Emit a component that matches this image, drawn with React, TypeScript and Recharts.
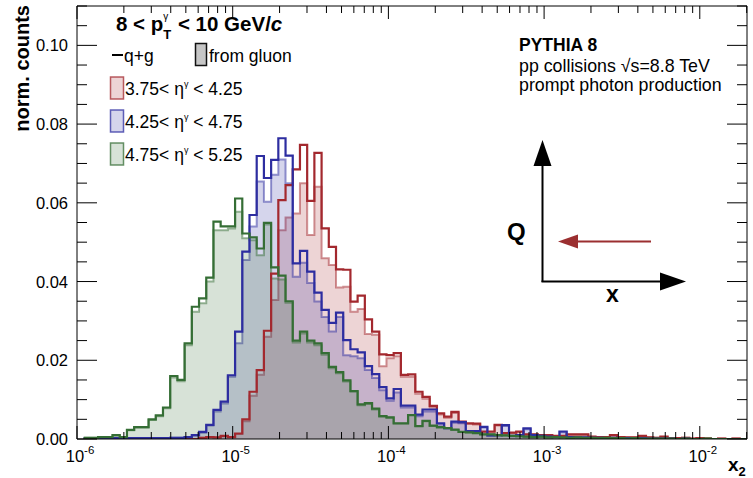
import React from 'react';
import { ComposedChart, Area, Line, XAxis, YAxis } from 'recharts';

// log10(x2) of the first bin's lower edge, and the bin width in log10(x2)
const LOG_X0 = -5.957;
const LOG_DX = 0.0463;
const X_MIN = 1e-6;
const X_MAX = 0.0201;
const Y_MAX = 0.11;

// 4.75 < eta < 5.25
const greenAll = [
    0.0003, 0.0003, 0.0005, 0.0005, 0.0010, 0.0005, 0.0023, 0.0030, 0.0030, 0.0050,
    0.0060, 0.0080, 0.0160, 0.0150, 0.0243, 0.0336, 0.0357, 0.0410, 0.0552, 0.0540,
    0.0540, 0.0611, 0.0522, 0.0512, 0.0484, 0.0549, 0.0436, 0.0415, 0.0350, 0.0250,
    0.0273, 0.0250, 0.0243, 0.0218, 0.0183, 0.0170, 0.0149, 0.0122, 0.0088, 0.0091,
    0.0077, 0.0058, 0.0055, 0.0040, 0.0040, 0.0061, 0.0033, 0.0046, 0.0034, 0.0030,
    0.0028, 0.0024, 0.0018, 0.0017, 0.0015, 0.0012, 0.0012, 0.0010, 0.0009, 0.0008,
    0.0007, 0.0006, 0.0005, 0.0006, 0.0004, 0.0005, 0.0004, 0.0003, 0.0004, 0.0003,
    0.0003, 0.0002, 0.0003, 0.0002, 0.0002, 0.0001, 0.0002, 0.0001, 0.0001, 0.0001,
    0.0001, 0.0001, 0, 0.0001, 0, 0, 0.0001, 0, 0, 0, 0, 0,
];
const greenGluon = [
    0.0003, 0.0003, 0.0005, 0.0005, 0.0009, 0.0005, 0.0022, 0.0029, 0.0029, 0.0048,
    0.0058, 0.0078, 0.0156, 0.0147, 0.0238, 0.0323, 0.0345, 0.0400, 0.0530, 0.0530,
    0.0535, 0.0577, 0.0510, 0.0505, 0.0467, 0.0545, 0.0408, 0.0405, 0.0346, 0.0245,
    0.0268, 0.0245, 0.0238, 0.0214, 0.0180, 0.0167, 0.0146, 0.0120, 0.0086, 0.0089,
    0.0075, 0.0057, 0.0054, 0.0039, 0.0039, 0.0060, 0.0032, 0.0045, 0.0033, 0.0029,
    0.0027, 0.0023, 0.0018, 0.0017, 0.0015, 0.0012, 0.0012, 0.0010, 0.0009, 0.0008,
    0.0007, 0.0006, 0.0005, 0.0006, 0.0004, 0.0005, 0.0004, 0.0003, 0.0004, 0.0003,
    0.0003, 0.0002, 0.0003, 0.0002, 0.0002, 0.0001, 0.0002, 0.0001, 0.0001, 0.0001,
    0.0001, 0.0001, 0, 0.0001, 0, 0, 0.0001, 0, 0, 0, 0, 0,
];

// 4.25 < eta < 4.75
const blueAll = [
    0.0002, 0.0002, 0.0002, 0.0002, 0.0002, 0.0002, 0.0002, 0.0002, 0.0002, 0.0002,
    0.0002, 0.0002, 0.0003, 0.0003, 0.0005, 0.0010, 0.0018, 0.0036, 0.0074, 0.0095,
    0.0162, 0.0273, 0.0476, 0.0569, 0.0719, 0.0663, 0.0709, 0.0764, 0.0720, 0.0446,
    0.0478, 0.0425, 0.0372, 0.0328, 0.0295, 0.0321, 0.0251, 0.0228, 0.0220, 0.0185,
    0.0165, 0.0132, 0.0103, 0.0127, 0.0085, 0.0085, 0.0062, 0.0075, 0.0075, 0.0040,
    0.0028, 0.0044, 0.0043, 0.0020, 0.0020, 0.0031, 0.0009, 0.0010, 0.0035, 0.0008,
    0.0010, 0.0027, 0.0010, 0.0008, 0.0006, 0.0005, 0.0019, 0.0005, 0.0004, 0.0004,
    0.0003, 0.0003, 0.0002, 0.0003, 0.0002, 0.0002, 0.0001, 0.0002, 0.0001, 0.0001,
    0.0001, 0.0001, 0, 0.0001, 0, 0, 0, 0, 0, 0, 0, 0,
];
const blueGluon = [
    0.0002, 0.0002, 0.0002, 0.0002, 0.0002, 0.0002, 0.0002, 0.0002, 0.0002, 0.0002,
    0.0002, 0.0002, 0.0003, 0.0003, 0.0005, 0.0009, 0.0016, 0.0034, 0.0070, 0.0090,
    0.0158, 0.0243, 0.0455, 0.0540, 0.0654, 0.0603, 0.0671, 0.0710, 0.0650, 0.0412,
    0.0448, 0.0396, 0.0349, 0.0310, 0.0273, 0.0310, 0.0213, 0.0210, 0.0205, 0.0175,
    0.0155, 0.0124, 0.0097, 0.0118, 0.0080, 0.0080, 0.0058, 0.0070, 0.0070, 0.0037,
    0.0026, 0.0041, 0.0040, 0.0019, 0.0019, 0.0029, 0.0008, 0.0009, 0.0033, 0.0007,
    0.0009, 0.0025, 0.0009, 0.0007, 0.0005, 0.0005, 0.0017, 0.0005, 0.0004, 0.0004,
    0.0003, 0.0003, 0.0002, 0.0003, 0.0002, 0.0002, 0.0001, 0.0002, 0.0001, 0.0001,
    0.0001, 0.0001, 0, 0.0001, 0, 0, 0, 0, 0, 0, 0, 0,
];

// 3.75 < eta < 4.25
const redAll = [
    0, 0, 0, 0, 0, 0, 0, 0, 0, 0,
    0, 0, 0, 0, 0, 0, 0.0003, 0.0005, 0.0004, 0.0008,
    0.0005, 0.0014, 0.0050, 0.0120, 0.0175, 0.0275, 0.0420, 0.0607, 0.0645, 0.0685,
    0.0747, 0.0605, 0.0727, 0.0535, 0.0488, 0.0431, 0.0430, 0.0349, 0.0364, 0.0304,
    0.0273, 0.0215, 0.0213, 0.0218, 0.0163, 0.0164, 0.0120, 0.0107, 0.0084, 0.0065,
    0.0057, 0.0069, 0.0044, 0.0040, 0.0039, 0.0019, 0.0019, 0.0036, 0.0015, 0.0016,
    0.0019, 0.0012, 0.0012, 0.0010, 0.0010, 0.0008, 0.0008, 0.0012, 0.0012, 0.0012,
    0.0006, 0.0005, 0.0005, 0.0010, 0.0005, 0.0004, 0.0004, 0.0008, 0.0004, 0.0003,
    0.0006, 0.0002, 0.0002, 0.0003, 0.0001, 0.0002, 0.0001, 0, 0.0001, 0, 0.0001, 0,
];
const redGluon = [
    0, 0, 0, 0, 0, 0, 0, 0, 0, 0,
    0, 0, 0, 0, 0, 0, 0.0003, 0.0005, 0.0004, 0.0007,
    0.0005, 0.0013, 0.0045, 0.0110, 0.0163, 0.0260, 0.0353, 0.0530, 0.0563, 0.0573,
    0.0650, 0.0518, 0.0641, 0.0459, 0.0442, 0.0385, 0.0387, 0.0323, 0.0330, 0.0267,
    0.0265, 0.0185, 0.0205, 0.0210, 0.0158, 0.0158, 0.0115, 0.0102, 0.0080, 0.0062,
    0.0054, 0.0066, 0.0042, 0.0038, 0.0037, 0.0018, 0.0018, 0.0034, 0.0014, 0.0015,
    0.0018, 0.0011, 0.0011, 0.0009, 0.0009, 0.0007, 0.0007, 0.0011, 0.0011, 0.0011,
    0.0005, 0.0005, 0.0005, 0.0009, 0.0005, 0.0004, 0.0004, 0.0007, 0.0004, 0.0003,
    0.0005, 0.0002, 0.0002, 0.0003, 0.0001, 0.0002, 0.0001, 0, 0.0001, 0, 0.0001, 0,
];

const xMajorTicks = [1e-6, 1e-5, 1e-4, 1e-3, 1e-2];
const xMinorSteps = [2, 3, 4, 5, 6, 7, 8, 9];
const yTicks = [
    0, 0.005, 0.01, 0.015, 0.02, 0.025, 0.03, 0.035, 0.04, 0.045, 0.05, 0.055,
    0.06, 0.065, 0.07, 0.075, 0.08, 0.085, 0.09, 0.095, 0.1, 0.105, 0.11,
];
const yLabelTicks = [0, 0.02, 0.04, 0.06, 0.08, 0.1];
const yLabels = ['0.00', '0.02', '0.04', '0.06', '0.08', '0.10'];
const etaBins = [
    { lo: '3.75', hi: '4.25' },
    { lo: '4.25', hi: '4.75' },
    { lo: '4.75', hi: '5.25' },
];

const RED = '#a3282e';
const BLUE = '#2d2da0';
const GREEN = '#356e35';
const FONT = '"Liberation Sans", Arial, Helvetica, sans-serif';

// chart box: margins plus axis sizes give the plot frame
const W = 753;
const H = 478;
const MARGIN = { top: 5, right: 5, bottom: 9, left: 17 };
const Y_AXIS_W = 60;
const X_AXIS_H = 30;
const EDGE_AXIS = 1;
const PLOT_LEFT = MARGIN.left + Y_AXIS_W;
const PLOT_RIGHT = W - MARGIN.right - EDGE_AXIS;
const PLOT_TOP = MARGIN.top + EDGE_AXIS;
const PLOT_BOTTOM = H - MARGIN.bottom - X_AXIS_H;

const xTicks: number[] = [];
xMajorTicks.forEach((m) => {
    xTicks.push(m);
    xMinorSteps.forEach((s) => {
        if (m * s <= X_MAX) xTicks.push(m * s);
    });
});

// histogram rows: one point per lower bin edge, plus the closing edge
const rows = greenAll.map((_, i) => ({
    x: 10 ** (LOG_X0 + i * LOG_DX),
    gAll: greenAll[i], gGlu: greenGluon[i],
    bAll: blueAll[i], bGlu: blueGluon[i],
    rAll: redAll[i], rGlu: redGluon[i],
}));
const last = rows[rows.length - 1];
rows.push({ ...last, x: 10 ** (LOG_X0 + rows.length * LOG_DX) });

const isDecade = (v: number) => {
    const lg = Math.log10(v);
    return Math.abs(lg - Math.round(lg)) < 1e-6;
};
const isYMajor = (v: number) => Math.round(v * 1000) % 20 === 0;

// same mapping as the chart's log x / linear y axes (used for the frame ticks only)
const tickX = (v: number) =>
    PLOT_LEFT + ((Math.log10(v) - Math.log10(X_MIN)) / (Math.log10(X_MAX) - Math.log10(X_MIN))) * (PLOT_RIGHT - PLOT_LEFT);
const tickY = (v: number) => PLOT_BOTTOM - (v / Y_MAX) * (PLOT_BOTTOM - PLOT_TOP);

const XLabel = (props: any) => {
    const x = Number(props.x);
    const y = Number(props.y);
    const exp = Math.round(Math.log10(Number(props.payload.value)));
    return (
        <text x={x + 3} y={y + 23} textAnchor="middle" fontSize={16.5} fill="#000" fontFamily={FONT}>
            10<tspan dy={-8} fontSize={11.5}>{exp}</tspan>
        </text>
    );
};
const YLabel = (props: any) => {
    const x = Number(props.x);
    const y = Number(props.y);
    const label = yLabels[Math.round(Number(props.payload.value) / 0.02)];
    return (
        <text x={x - 9} y={y + 6} textAnchor="end" fontSize={16.5} fill="#000" fontFamily={FONT}>
            {label}
        </text>
    );
};

const FrameTicks = () => (
    <g stroke="#000" strokeWidth={1}>
        {xTicks.map((v) => {
            const x = tickX(v);
            const len = isDecade(v) ? 13 : 7;
            return (
                <g key={`x-${v}`}>
                    <line x1={x} y1={PLOT_BOTTOM} x2={x} y2={PLOT_BOTTOM - len} />
                    <line x1={x} y1={PLOT_TOP} x2={x} y2={PLOT_TOP + len} />
                </g>
            );
        })}
        {yTicks.map((v) => {
            const y = tickY(v);
            const len = isYMajor(v) ? 20 : 10;
            return (
                <g key={`y-${v}`}>
                    <line x1={PLOT_LEFT} y1={y} x2={PLOT_LEFT + len} y2={y} />
                    <line x1={PLOT_RIGHT} y1={y} x2={PLOT_RIGHT - len} y2={y} />
                </g>
            );
        })}
    </g>
);

const LegendBox = ({ y, color, lo, hi }: { y: number; color: string; lo: string; hi: string }) => (
    <g>
        <rect x={110.5} y={y} width={13} height={22} fill={color} fillOpacity={0.2} stroke={color} strokeOpacity={0.75} strokeWidth={1.5} />
        <text x={125} y={y + 18} fontSize={17.5} fill="#000">
            {lo}{'< η'}
            <tspan dy={-8} fontSize={9}>γ</tspan>
            <tspan dy={8}>{' < ' + hi}</tspan>
        </text>
    </g>
);

const Overlay = () => (
    <svg width={W} height={H} style={{ position: 'absolute', left: 0, top: 0, pointerEvents: 'none' }} fontFamily={FONT}>
        <FrameTicks />

        {/* axis titles */}
        <text x={29} y={5} transform="rotate(-90 29 5)" textAnchor="end" fontSize={20} fontWeight="bold" fill="#000">
            norm. counts
        </text>
        <text x={728} y={471} fontSize={19} fontWeight="bold" fill="#000">
            x<tspan dy={5} fontSize={13}>2</tspan>
        </text>

        {/* kinematic title */}
        <text x={116} y={31} fontSize={20.5} fontWeight="bold" fill="#000">
            {'8 < p'}
            <tspan dy={8} fontSize={13}>T</tspan>
            <tspan dx={-8} dy={-19} fontSize={10} fontWeight="normal">γ</tspan>
            <tspan dx={4} dy={11}>{' < 10 GeV/'}</tspan>
            <tspan fontStyle="italic">c</tspan>
        </text>

        {/* legend */}
        <line x1={112} y1={55} x2={123} y2={55} stroke="#000" strokeWidth={2} />
        <text x={124} y={62} fontSize={17.5} fill="#000">q+g</text>
        <rect x={195.5} y={43.5} width={11} height={22} fill="#c6c6c6" stroke="#111" strokeWidth={1.5} />
        <text x={209} y={62} fontSize={17.5} fill="#000">from gluon</text>
        <LegendBox y={77} color={RED} lo={etaBins[0].lo} hi={etaBins[0].hi} />
        <LegendBox y={110} color={BLUE} lo={etaBins[1].lo} hi={etaBins[1].hi} />
        <LegendBox y={143} color={GREEN} lo={etaBins[2].lo} hi={etaBins[2].hi} />

        {/* generator info */}
        <text x={519} y={51} fontSize={17.5} fontWeight="bold" fill="#000">PYTHIA 8</text>
        <text x={519} y={72} fontSize={17.8} fill="#000">pp collisions √s=8.8 TeV</text>
        <text x={519} y={91} fontSize={17.8} fill="#000">prompt photon production</text>

        {/* Q - x sketch */}
        <line x1={542.5} y1={282} x2={542.5} y2={160} stroke="#000" strokeWidth={2} />
        <polygon points="542.5,140 533.5,166 551.5,166" fill="#000" />
        <line x1={541.5} y1={281.5} x2={662} y2={281.5} stroke="#000" strokeWidth={2} />
        <polygon points="686,281.5 660,272.5 660,290.5" fill="#000" />
        <line x1={651} y1={241.5} x2={574} y2={241.5} stroke="#9b2f30" strokeWidth={2} />
        <polygon points="558,241.5 578,234.5 578,248.5" fill="#9b2f30" />
        <text x={507} y={240} fontSize={24} fontWeight="bold" fill="#000">Q</text>
        <text x={606} y={302} fontSize={23} fontWeight="bold" fill="#000">x</text>
    </svg>
);

const series = [
    { all: 'rAll', glu: 'rGlu', color: RED },
    { all: 'bAll', glu: 'bGlu', color: BLUE },
    { all: 'gAll', glu: 'gGlu', color: GREEN },
];

const xAxisBase = {
    dataKey: 'x',
    type: 'number' as const,
    scale: 'log' as const,
    domain: [X_MIN, X_MAX],
    allowDataOverflow: true,
    interval: 0 as const,
    tickSize: 0,
    tickMargin: 0,
    tickLine: false,
};
const yAxisBase = {
    type: 'number' as const,
    domain: [0, Y_MAX],
    allowDataOverflow: true,
    interval: 0 as const,
    tickSize: 0,
    tickMargin: 0,
    tickLine: false,
};
const frame = { stroke: '#000', strokeWidth: 1 };

const App: React.FC = () => {
    return (
        <div style={{ position: 'relative', width: W, height: H, fontFamily: FONT, background: '#fff' }}>
            <style>{'body{margin:0}'}</style>
            <ComposedChart width={W} height={H} data={rows} margin={MARGIN}>
                <XAxis {...xAxisBase} ticks={xMajorTicks} height={X_AXIS_H} axisLine={frame} tick={<XLabel />} />
                <YAxis {...yAxisBase} ticks={yLabelTicks} width={Y_AXIS_W} axisLine={frame} tick={<YLabel />} />
                <XAxis {...xAxisBase} xAxisId="top" orientation="top" ticks={xMajorTicks} height={EDGE_AXIS} axisLine={frame} tick={false} />
                <YAxis {...yAxisBase} yAxisId="right" orientation="right" ticks={yLabelTicks} width={EDGE_AXIS} axisLine={frame} tick={false} />
                {series.flatMap((s) => [
                    <Area
                        key={s.glu}
                        dataKey={s.glu}
                        type="stepAfter"
                        fill={s.color}
                        fillOpacity={0.2}
                        stroke={s.color}
                        strokeOpacity={0.5}
                        strokeWidth={2}
                        isAnimationActive={false}
                        dot={false}
                        activeDot={false}
                    />,
                    <Line
                        key={s.all}
                        dataKey={s.all}
                        type="stepAfter"
                        stroke={s.color}
                        strokeWidth={2.2}
                        strokeLinejoin="miter"
                        isAnimationActive={false}
                        dot={false}
                        activeDot={false}
                    />,
                ])}
            </ComposedChart>
            <Overlay />
        </div>
    );
};

export default App;
